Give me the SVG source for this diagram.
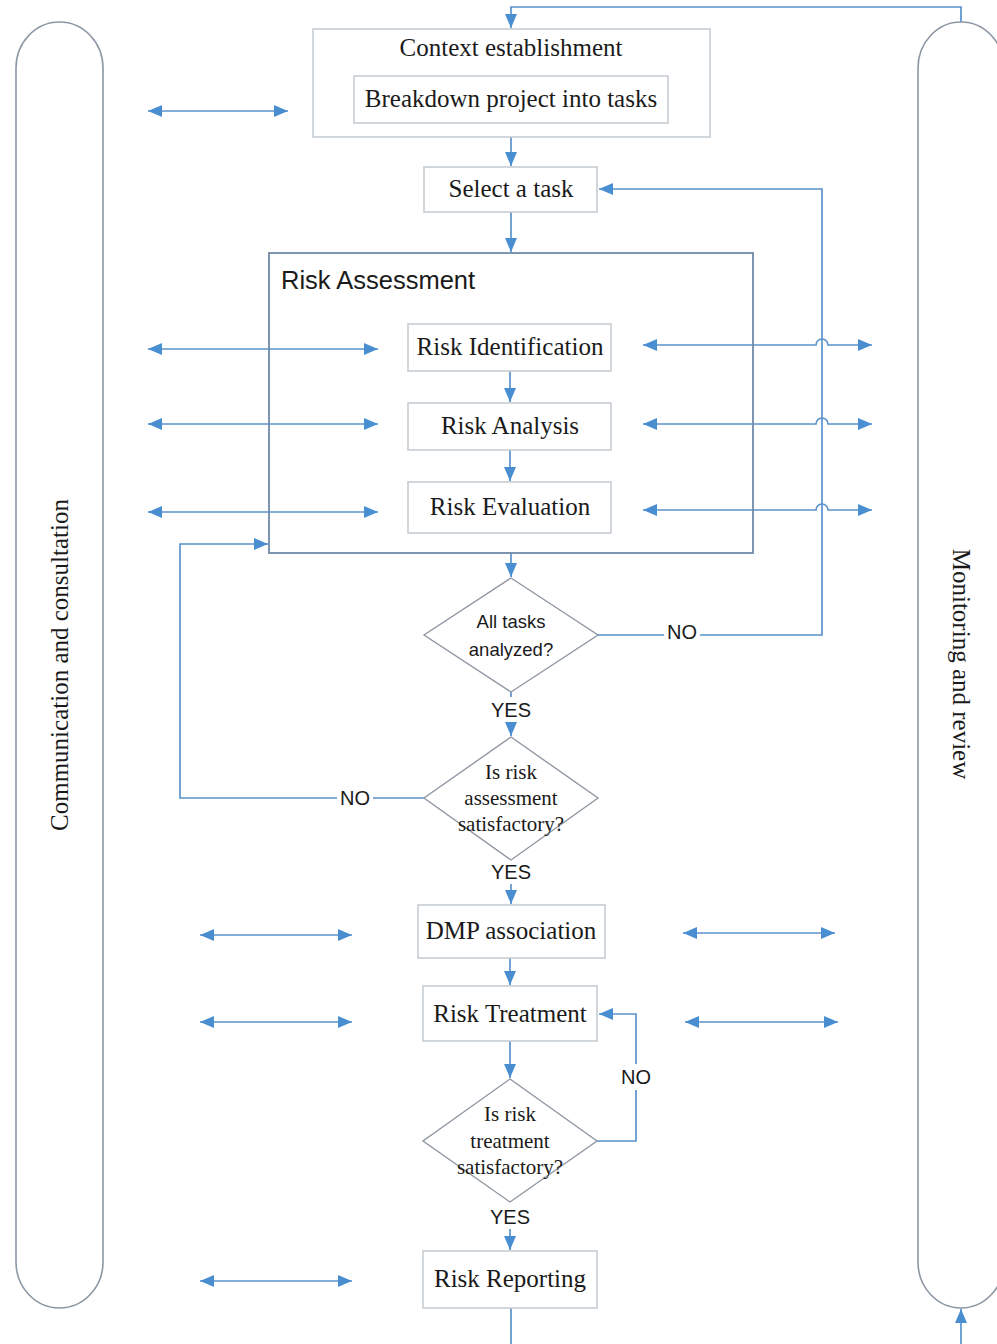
<svg xmlns="http://www.w3.org/2000/svg" width="997" height="1344" viewBox="0 0 997 1344">
  <style>
    .box { fill: #ffffff; stroke: #c6ccd3; stroke-width: 1.6; }
    .frame { fill: none; stroke: #6f8aa8; stroke-width: 1.8; }
    .pill { fill: #ffffff; stroke: #8c97a4; stroke-width: 1.6; }
    .dia { fill: #ffffff; stroke: #8f98a3; stroke-width: 1.4; }
    .conn { fill: none; stroke: #5b93cc; stroke-width: 1.7; }
    .serif { font-family: "Liberation Serif", "Times New Roman", serif; font-size: 25px; fill: #1a1a1a; text-anchor: middle; }
    .dserif { font-family: "Liberation Serif", "Times New Roman", serif; font-size: 21px; fill: #1a1a1a; text-anchor: middle; }
    .sans { font-family: "Liberation Sans", Arial, sans-serif; fill: #1a1a1a; }
    .lbl { font-family: "Liberation Sans", Arial, sans-serif; font-size: 20px; fill: #1a1a1a; text-anchor: middle; }
  </style>
  <defs>
    <marker id="ah" viewBox="0 0 14 12" refX="14" refY="6" markerWidth="14" markerHeight="12" markerUnits="userSpaceOnUse" orient="auto-start-reverse">
      <path d="M0,0 L14,6 L0,12 z" fill="#4a8ed2"/>
    </marker>
  </defs>

  <rect width="997" height="1344" fill="#ffffff"/>

  <!-- side pills -->
  <g id="communication">
    <rect class="pill" x="16" y="22" width="87" height="1286" rx="43.5" ry="46"/>
    <text class="serif" transform="translate(68,665) rotate(-90)">Communication and consultation</text>
  </g>
  <g id="monitoring">
    <rect class="pill" x="918" y="22" width="86" height="1286" rx="43" ry="46"/>
    <text class="serif" transform="translate(953,664) rotate(90)">Monitoring and review</text>
  </g>

  <!-- connectors -->
  <g id="connectors">
    <path class="conn" d="M961,22 V7 H511 V28" marker-end="url(#ah)"/>
    <path class="conn" d="M511,137 V166" marker-end="url(#ah)"/>
    <path class="conn" d="M511,212 V252" marker-end="url(#ah)"/>
    <path class="conn" d="M510,371 V402" marker-end="url(#ah)"/>
    <path class="conn" d="M510,450 V481" marker-end="url(#ah)"/>
    <path class="conn" d="M511,553 V577" marker-end="url(#ah)"/>
    <path class="conn" d="M511,692 V697"/>
    <path class="conn" d="M511,722 V736" marker-end="url(#ah)"/>
    <path class="conn" d="M511,884 V904" marker-end="url(#ah)"/>
    <path class="conn" d="M510,958 V985" marker-end="url(#ah)"/>
    <path class="conn" d="M510,1041 V1078" marker-end="url(#ah)"/>
    <path class="conn" d="M510,1229 V1250" marker-end="url(#ah)"/>
    <path class="conn" d="M511,1308 V1350 H961 V1309" marker-end="url(#ah)"/>

    <!-- NO loops -->
    <path class="conn" d="M598,635 H822 V189 H599" marker-end="url(#ah)"/>
    <path class="conn" d="M424,798 H180 V544 H268" marker-end="url(#ah)"/>
    <path class="conn" d="M597,1141 H636 V1014 H599" marker-end="url(#ah)"/>

    <!-- exchange arrows, left side -->
    <path class="conn" d="M148,111 H288" marker-start="url(#ah)" marker-end="url(#ah)"/>
    <path class="conn" d="M148,349 H378" marker-start="url(#ah)" marker-end="url(#ah)"/>
    <path class="conn" d="M148,424 H378" marker-start="url(#ah)" marker-end="url(#ah)"/>
    <path class="conn" d="M148,512 H378" marker-start="url(#ah)" marker-end="url(#ah)"/>
    <path class="conn" d="M200,935 H352" marker-start="url(#ah)" marker-end="url(#ah)"/>
    <path class="conn" d="M200,1022 H352" marker-start="url(#ah)" marker-end="url(#ah)"/>
    <path class="conn" d="M200,1281 H352" marker-start="url(#ah)" marker-end="url(#ah)"/>

    <!-- exchange arrows, right side (hop over the loop line) -->
    <path class="conn" d="M643,345 H816 a6,6 0 0 1 12,0 H872" marker-start="url(#ah)" marker-end="url(#ah)"/>
    <path class="conn" d="M643,424 H816 a6,6 0 0 1 12,0 H872" marker-start="url(#ah)" marker-end="url(#ah)"/>
    <path class="conn" d="M643,510 H816 a6,6 0 0 1 12,0 H872" marker-start="url(#ah)" marker-end="url(#ah)"/>
    <path class="conn" d="M683,933 H835" marker-start="url(#ah)" marker-end="url(#ah)"/>
    <path class="conn" d="M685,1022 H838" marker-start="url(#ah)" marker-end="url(#ah)"/>
  </g>

  <!-- process nodes -->
  <g id="context">
    <rect class="box" x="313" y="29" width="397" height="108"/>
    <text class="serif" x="511" y="56">Context establishment</text>
  </g>
  <g id="breakdown">
    <rect class="box" x="354" y="76" width="314" height="47"/>
    <text class="serif" x="511" y="107">Breakdown project into tasks</text>
  </g>
  <g id="select-task">
    <rect class="box" x="424" y="167" width="173" height="45"/>
    <text class="serif" x="511" y="197">Select a task</text>
  </g>
  <g id="risk-assessment">
    <rect class="frame" x="269" y="253" width="484" height="300"/>
    <text class="sans" x="281" y="289" font-size="25.5">Risk Assessment</text>
  </g>
  <g id="risk-identification">
    <rect class="box" x="408" y="324" width="203" height="47"/>
    <text class="serif" x="510" y="355">Risk Identification</text>
  </g>
  <g id="risk-analysis">
    <rect class="box" x="408" y="403" width="203" height="47"/>
    <text class="serif" x="510" y="434">Risk Analysis</text>
  </g>
  <g id="risk-evaluation">
    <rect class="box" x="408" y="482" width="203" height="51"/>
    <text class="serif" x="510" y="515">Risk Evaluation</text>
  </g>

  <g id="all-tasks">
    <polygon class="dia" points="511,578 598,635 511,692 424,635"/>
    <text class="sans" x="511" y="628" font-size="18.5" text-anchor="middle">All tasks</text>
    <text class="sans" x="511" y="656" font-size="18.5" text-anchor="middle">analyzed?</text>
  </g>
  <g id="assessment-ok">
    <polygon class="dia" points="511,737 598,798 511,860 424,798"/>
    <text class="dserif" x="511" y="779">Is risk</text>
    <text class="dserif" x="511" y="805">assessment</text>
    <text class="dserif" x="511" y="831">satisfactory?</text>
  </g>
  <g id="dmp">
    <rect class="box" x="418" y="905" width="187" height="53"/>
    <text class="serif" x="511" y="939">DMP association</text>
  </g>
  <g id="risk-treatment">
    <rect class="box" x="423" y="986" width="174" height="55"/>
    <text class="serif" x="510" y="1022">Risk Treatment</text>
  </g>
  <g id="treatment-ok">
    <polygon class="dia" points="510,1079 597,1141 510,1202 423,1141"/>
    <text class="dserif" x="510" y="1121">Is risk</text>
    <text class="dserif" x="510" y="1148">treatment</text>
    <text class="dserif" x="510" y="1174">satisfactory?</text>
  </g>
  <g id="risk-reporting">
    <rect class="box" x="423" y="1251" width="174" height="57"/>
    <text class="serif" x="510" y="1287">Risk Reporting</text>
  </g>

  <!-- branch labels -->
  <g id="labels">
    <rect x="664" y="620" width="36" height="24" fill="#ffffff"/>
    <text class="lbl" x="682" y="639">NO</text>
    <text class="lbl" x="511" y="717">YES</text>
    <rect x="337" y="786" width="36" height="24" fill="#ffffff"/>
    <text class="lbl" x="355" y="805">NO</text>
    <text class="lbl" x="511" y="879">YES</text>
    <rect x="618" y="1064" width="36" height="26" fill="#ffffff"/>
    <text class="lbl" x="636" y="1084">NO</text>
    <text class="lbl" x="510" y="1224">YES</text>
  </g>
</svg>
